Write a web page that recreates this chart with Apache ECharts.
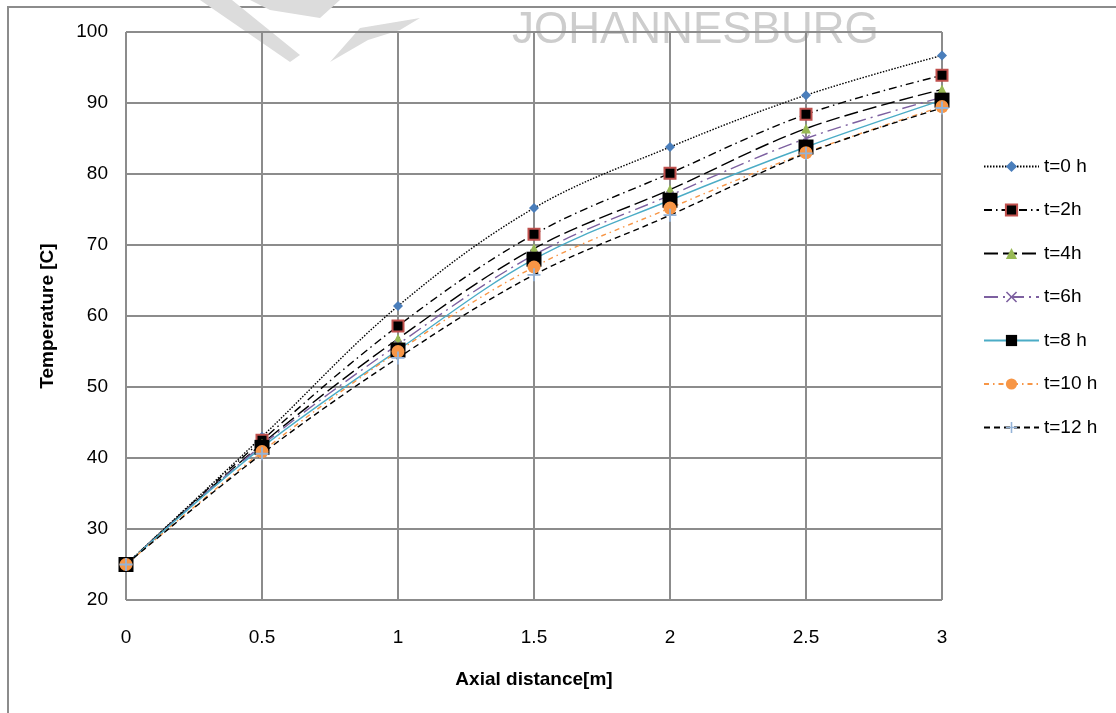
<!DOCTYPE html>
<html>
<head>
<meta charset="utf-8">
<script src="https://cdn.jsdelivr.net/npm/echarts@6/dist/echarts.min.js"></script>
<style>
  html, body { margin: 0; padding: 0; background: #fff; }
  #chart { width: 1116px; height: 713px; }
</style>
</head>
<body>
<div id="chart"></div>
<script>
var distance = [0, 0.5, 1, 1.5, 2, 2.5, 3];
var seriesNames = ['t=0 h', 't=2h', 't=4h', 't=6h', 't=8 h', 't=10 h', 't=12 h'];
var t0 = [25, 43.0, 61.4, 75.2, 83.8, 91.1, 96.7];
var t2 = [25, 42.5, 58.6, 71.5, 80.1, 88.4, 93.9];
var t4 = [25, 42.0, 56.8, 69.5, 77.8, 86.4, 91.9];
var t6 = [25, 41.8, 56.0, 68.6, 77.0, 85.0, 90.8];
var t8 = [25, 41.5, 55.2, 68.0, 76.3, 83.8, 90.4];
var t10 = [25, 40.9, 55.0, 66.9, 75.2, 83.0, 89.5];
var t12 = [25, 40.6, 54.1, 65.8, 74.2, 82.9, 89.3];

var chartDom = document.getElementById('chart');
var myChart = echarts.init(chartDom);
var option;

var FONT = '"Liberation Sans", Arial, sans-serif';

function pairs(vals) {
  return distance.map(function (x, i) { return [x, vals[i]]; });
}

var plusPath = 'path://M4.3,0H5.7V4.3H10V5.7H5.7V10H4.3V5.7H0V4.3H4.3Z';
var xPath = 'path://M0,1L1,0L5,4L9,0L10,1L6,5L10,9L9,10L5,6L1,10L0,9L4,5Z';

function line(name, vals, lineColor, lineType, symbol, size, itemStyle) {
  return {
    name: name,
    type: 'line',
    data: pairs(vals),
    smooth: 0.35,
    symbol: symbol,
    symbolSize: size,
    lineStyle: { color: lineColor, width: 1.4, type: lineType },
    itemStyle: itemStyle,
    emphasis: { disabled: true }
  };
}

option = {
  animation: false,
  graphic: [
    {
      type: 'rect',
      shape: { x: 8, y: 7, width: 1200, height: 800 },
      style: { fill: 'none', stroke: '#8c8c8c', lineWidth: 2 },
      z: -10
    },
    {
      type: 'text',
      left: 512,
      top: 9,
      style: {
        text: 'JOHANNESBURG',
        fill: '#cdcdcd',
        font: '44px "Liberation Sans", Arial, sans-serif'
      },
      z: -5
    },
    {
      type: 'polygon',
      shape: { points: [[200, 0], [232, 0], [300, 55], [290, 62]] },
      style: { fill: '#dcdcdc' },
      z: -5
    },
    {
      type: 'polygon',
      shape: { points: [[250, 0], [340, 0], [320, 18], [270, 10]] },
      style: { fill: '#dcdcdc' },
      z: -5
    },
    {
      type: 'polygon',
      shape: { points: [[330, 62], [360, 28], [420, 18], [400, 30], [368, 40]] },
      style: { fill: '#dcdcdc' },
      z: -5
    }
  ],
  grid: {
    left: 126,
    top: 32,
    right: 174,
    bottom: 113
  },
  legend: {
    orient: 'vertical',
    left: 983,
    top: 157,
    padding: 0,
    itemWidth: 55,
    itemHeight: 14,
    itemGap: 24.5,
    data: seriesNames,
    textStyle: {
      fontFamily: FONT,
      fontSize: 19,
      color: '#000'
    }
  },
  xAxis: {
    type: 'value',
    min: 0,
    max: 3,
    interval: 0.5,
    name: 'Axial distance[m]',
    nameLocation: 'middle',
    nameGap: 70,
    nameTextStyle: {
      fontFamily: FONT,
      fontSize: 19,
      fontWeight: 'bold',
      color: '#000'
    },
    axisLine: { show: false },
    axisTick: { show: false },
    axisLabel: {
      margin: 28,
      fontFamily: FONT,
      fontSize: 19,
      color: '#000'
    },
    splitLine: { show: true, lineStyle: { color: '#8c8c8c', width: 2 } }
  },
  yAxis: {
    type: 'value',
    min: 20,
    max: 100,
    interval: 10,
    name: 'Temperature [C]',
    nameLocation: 'middle',
    nameGap: 69,
    nameTextStyle: {
      fontFamily: FONT,
      fontSize: 19,
      fontWeight: 'bold',
      color: '#000'
    },
    axisLine: { show: false },
    axisTick: { show: false },
    axisLabel: {
      margin: 18,
      fontFamily: FONT,
      fontSize: 19,
      color: '#000'
    },
    splitLine: { show: true, lineStyle: { color: '#8c8c8c', width: 2 } }
  },
  series: [
    line('t=0 h', t0, '#000', [1.5, 1.5], 'diamond', 10, { color: '#4a7ebb' }),
    line('t=2h', t2, '#000', [8, 4, 1.5, 4], 'rect', 11, { color: '#000', borderColor: '#c0504d', borderWidth: 2 }),
    line('t=4h', t4, '#000', [14, 5], 'triangle', 10, { color: '#98b954' }),
    line('t=6h', t6, '#7d60a0', [14, 5, 2, 5], xPath, 8, { color: '#7d60a0' }),
    line('t=8 h', t8, '#4bacc6', 'solid', 'rect', 15, { color: '#000' }),
    line('t=10 h', t10, '#f79646', [5, 4, 1.5, 4], 'circle', 13, { color: '#f79646' }),
    line('t=12 h', t12, '#000', [6, 4], plusPath, 13, { color: '#95b3d7' })
  ]
};

option && myChart.setOption(option);
</script>
</body>
</html>
